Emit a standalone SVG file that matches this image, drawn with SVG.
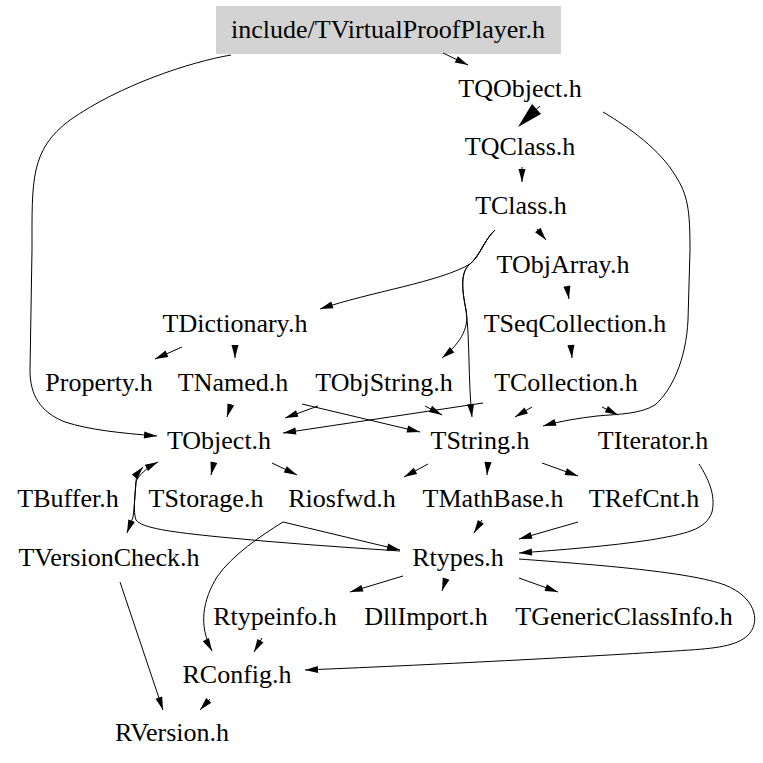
<svg xmlns="http://www.w3.org/2000/svg" width="763" height="763" viewBox="0 0 763 763">
<defs>
<marker id="ah" markerUnits="userSpaceOnUse" markerWidth="14" markerHeight="8" refX="13" refY="4" orient="auto" overflow="visible">
<path d="M0,0.5 L13,4 L0,7.5 z" fill="#000"/>
</marker>
<style>
text{font-family:"Liberation Serif","Times New Roman",serif;font-size:26px;fill:#000;text-anchor:middle}
.e path{fill:none;stroke:#000;stroke-width:1;marker-end:url(#ah)}
.e path.nm{marker-end:none}
</style>
</defs>
<rect width="763" height="763" fill="#fff"/>
<g id="n_TVirtualProofPlayer"><rect x="216" y="6" width="345" height="48" fill="#d3d3d3"/><text x="388" y="38">include/TVirtualProofPlayer.h</text></g>
<g id="n_TQObject"><text x="520" y="97">TQObject.h</text></g>
<g id="n_TQClass"><text x="520" y="155">TQClass.h</text></g>
<g id="n_TClass"><text x="521" y="214">TClass.h</text></g>
<g id="n_TObjArray"><text x="563" y="273">TObjArray.h</text></g>
<g id="n_TDictionary"><text x="235" y="332">TDictionary.h</text></g>
<g id="n_TSeqCollection"><text x="575" y="332">TSeqCollection.h</text></g>
<g id="n_Property"><text x="99" y="391">Property.h</text></g>
<g id="n_TNamed"><text x="233" y="391">TNamed.h</text></g>
<g id="n_TObjString"><text x="384" y="391">TObjString.h</text></g>
<g id="n_TCollection"><text x="566" y="391">TCollection.h</text></g>
<g id="n_TObject"><text x="219" y="449">TObject.h</text></g>
<g id="n_TString"><text x="480" y="449">TString.h</text></g>
<g id="n_TIterator"><text x="653" y="449">TIterator.h</text></g>
<g id="n_TBuffer"><text x="68" y="507">TBuffer.h</text></g>
<g id="n_TStorage"><text x="206" y="507">TStorage.h</text></g>
<g id="n_Riosfwd"><text x="342" y="507">Riosfwd.h</text></g>
<g id="n_TMathBase"><text x="493" y="507">TMathBase.h</text></g>
<g id="n_TRefCnt"><text x="644" y="507">TRefCnt.h</text></g>
<g id="n_TVersionCheck"><text x="109" y="566">TVersionCheck.h</text></g>
<g id="n_Rtypes"><text x="458" y="566">Rtypes.h</text></g>
<g id="n_Rtypeinfo"><text x="275" y="625">Rtypeinfo.h</text></g>
<g id="n_DllImport"><text x="426" y="625">DllImport.h</text></g>
<g id="n_TGenericClassInfo"><text x="624" y="625">TGenericClassInfo.h</text></g>
<g id="n_RConfig"><text x="237" y="683">RConfig.h</text></g>
<g id="n_RVersion"><text x="172" y="741">RVersion.h</text></g>
<g id="edges" class="e">
<path d="M443,53 L468,65"/>
<path d="M231,55 C190,62 120,85 70,120 C30,150 32,180 32,250 L30,370 C30,395 40,412 65,422 C90,430 120,433 157,436"/>
<path class="nm" d="M540,106 L522,122"/>
<polygon points="518,127 532,104 541,114" fill="#000"/>
<path d="M522,167 L522,182"/>
<path d="M537,229 L546,240"/>
<path d="M495,230 C484,240 480,256 470,264 C440,282 370,292 320,309"/>
<path d="M495,230 C484,240 480,256 470,264 C460,272 462,290 466,310 C470,330 458,345 442,358"/>
<path d="M495,230 C484,240 480,256 470,264 C460,272 462,290 466,310 C470,340 468,380 472,417"/>
<path d="M567,287 L569,299"/>
<path d="M571,346 L572,358"/>
<path d="M182,347 L155,359"/>
<path d="M235,345 L235,358"/>
<path d="M231,404 L227,417"/>
<path d="M302,404 L420,432"/>
<path d="M318,406 L285,418"/>
<path d="M425,406 L442,415"/>
<path d="M483,403 L283,433"/>
<path d="M532,407 L515,417"/>
<path d="M602,407 L618,415"/>
<path d="M603,112 C630,128 660,150 675,175 C688,195 690,210 690,250 L688,320 C686,360 672,390 655,405 C640,414 620,414 597,416 C580,418 560,421 543,426"/>
<path d="M214,462 L211,475"/>
<path d="M272,463 L297,475"/>
<path d="M136,482 C135,495 134,510 133,517 L127,533"/>
<path class="nm" d="M136,482 C135,495 133,512 136,520 C142,528 170,532 220,537 C280,543 340,547 400,551"/>
<path d="M283,522 L400,550"/>
<path d="M136,482 C136,478 137,474 143,467"/>
<path d="M136,482 C138,476 146,468 158,462"/>
<path d="M428,464 L404,477"/>
<path d="M488,462 L487,475"/>
<path d="M542,463 L578,476"/>
<path d="M699,464 C708,478 716,495 712,512 C706,530 685,534 650,540 C610,546 560,550 519,553"/>
<path d="M482,520 L474,533"/>
<path d="M578,522 L519,539"/>
<path d="M283,522 C262,535 232,555 217,577 C203,600 198,625 212,651"/>
<path d="M403,576 L350,592"/>
<path d="M446,579 L442,591"/>
<path d="M519,578 L558,592"/>
<path d="M519,559 C600,565 690,572 725,585 C755,597 760,620 750,633 C740,645 720,648 690,650 C600,656 450,664 305,670"/>
<path d="M262,638 L254,652"/>
<path d="M210,699 L200,710"/>
<path d="M120,582 L163,710"/>
</g>
</svg>
